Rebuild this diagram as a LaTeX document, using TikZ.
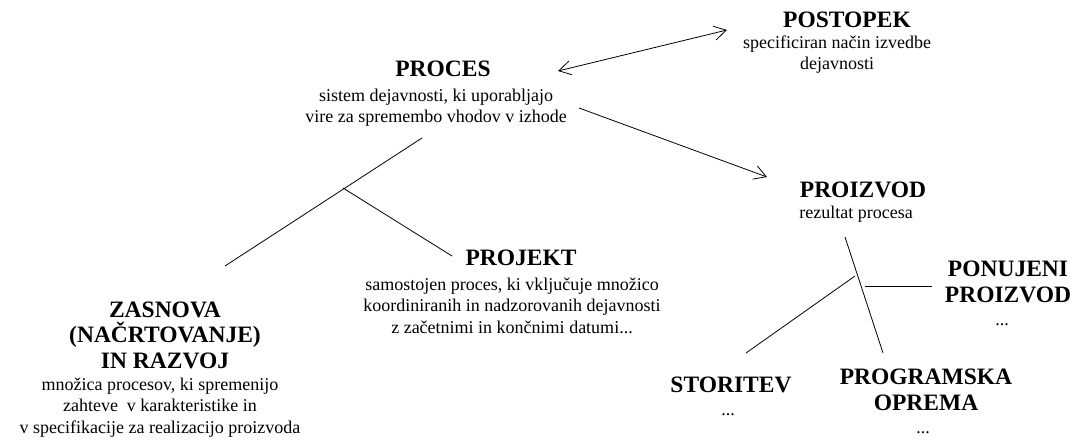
\documentclass[tikz,border=0pt]{standalone}
\usepackage{fontspec}
\setmainfont{Liberation Serif}
\usetikzlibrary{arrows.meta}

\begin{document}
\begin{tikzpicture}[x=1pt, y=-1pt, line width=0.8pt,
  naslov/.style={anchor=base, inner sep=0pt, align=center, font=\fontsize{23.5}{25.5}\selectfont\bfseries},
  opis/.style={anchor=base, inner sep=0pt, align=center, font=\fontsize{18}{21.5}\selectfont},
  puscica/.style={-{Straight Barb[length=12pt, width=14pt]}},
  dvopuscica/.style={{Straight Barb[length=12pt, width=14pt]}-{Straight Barb[length=12pt, width=14pt]}}]
\useasboundingbox (0,0) rectangle (1076,441);

\node[naslov] (n01) at (443, 77) {PROCES};
\node[opis] (d01) at (436, 123) {sistem dejavnosti, ki uporabljajo\\vire za spremembo vhodov v izhode};

\node[naslov] (n11) at (847, 28) {POSTOPEK};
\node[opis] (d11) at (837, 70) {specificiran način izvedbe\\dejavnosti};

\node[naslov] (n12) at (863, 197) {PROIZVOD};
\node[opis] (d12) at (856, 218) {rezultat procesa};

\node[naslov] (n21) at (165, 368) {ZASNOVA\\(NAČRTOVANJE)\\IN RAZVOJ};
\node[opis] (d21) at (160, 433) {množica procesov, ki spremenijo\\zahteve\ \ v karakteristike in\\v specifikacije za realizacijo proizvoda};

\node[naslov] (n22) at (521, 265) {PROJEKT};
\node[opis] (d22) at (512, 333) {samostojen proces, ki vključuje množico\\koordiniranih in nadzorovanih dejavnosti\\z začetnimi in končnimi datumi...};

\node[naslov] (n31) at (731, 392) {STORITEV};
\node[opis] (d31) at (728, 415) {...};

\node[naslov] (n32) at (926, 410) {PROGRAMSKA\\OPREMA};
\node[opis] (d32) at (923, 433) {...};

\node[naslov] (n33) at (1008, 302) {PONUJENI\\PROIZVOD};
\node[opis] (d33) at (1002, 325) {...};

\coordinate (k01) at (422, 138);
\coordinate (k02) at (225, 266);
\coordinate (k03) at (343, 188);
\coordinate (k04) at (452, 256);

\coordinate (k11) at (845, 237);
\coordinate (k12) at (883, 353);
\coordinate (k13) at (855, 276);
\coordinate (k14) at (746, 353);
\coordinate (k15) at (865, 286);
\coordinate (k16) at (932, 286);

\coordinate (a01) at (558, 71);
\coordinate (a02) at (727, 30);
\coordinate (a03) at (579, 108);
\coordinate (a04) at (767, 177);

\draw[dvopuscica] (a01) -- (a02);
\draw[puscica] (a03) -- (a04);

\draw (k01) -- (k02);
\draw (k03) -- (k04);

\draw (k11) -- (k12);
\draw (k13) -- (k14);
\draw (k15) -- (k16);
\end{tikzpicture}
\end{document}
